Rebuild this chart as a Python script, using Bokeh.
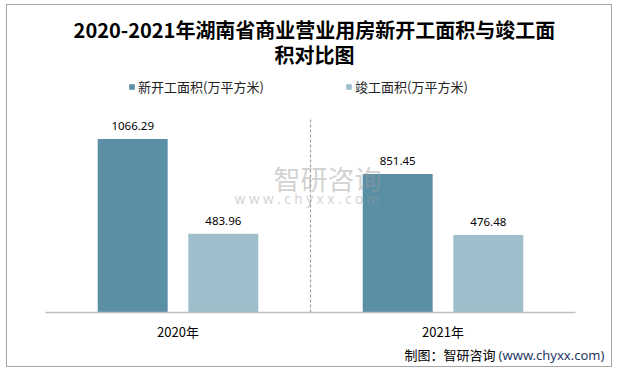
from bokeh.plotting import figure
from bokeh.models import (ColumnDataSource, FactorRange, Range1d, Legend, LegendItem,
                          LabelSet, Label)
from bokeh.transform import dodge
from bokeh.core.properties import value
from bokeh.embed import file_html
from bokeh.resources import INLINE

# ---- data ----
years = ["2020年", "2021年"]
new_start = [1066.29, 851.45]
completed = [483.96, 476.48]
series_names = ["新开工面积(万平方米)", "竣工面积(万平方米)"]
title_line1 = "2020-2021年湖南省商业营业用房新开工面积与竣工面"
title_line2 = "积对比图"
source_note = "制图：智研咨询"
source_url = "(www.chyxx.com)"

CJK = "Noto Sans CJK SC"
DARK = "#5b8fa6"
LIGHT = "#9fbecb"

src = ColumnDataSource(dict(
    year=years, new=new_start, done=completed,
    new_lbl=[f"{v:.2f}" for v in new_start],
    done_lbl=[f"{v:.2f}" for v in completed],
))

p = figure(width=606, height=363, x_range=FactorRange(*years, range_padding=0.1434),
           y_range=Range1d(-345, 1887), output_backend="svg", toolbar_location=None,
           min_border_left=0, min_border_right=0, min_border_top=0, min_border_bottom=0)
p.styles = {"border": "1px solid #a6a6a6", "margin-left": "6px", "margin-top": "4px"}
p.outline_line_color = None
p.background_fill_color = "white"
p.border_fill_color = "white"
p.grid.visible = False
p.yaxis.visible = False

# title (two centred lines)
for txt, ty in ((title_line1, 1739), (title_line2, 1584)):
    p.add_layout(Label(x=1.015, y=ty, text=txt, text_align="center", text_baseline="middle",
                       text_font=CJK, text_font_size="20px", text_font_style="bold",
                       text_color="#000000"))

# x axis (fixed at y=0 inside the frame)
ax = p.xaxis[0]
ax.fixed_location = 0
ax.bounds = (0, len(years))
ax.axis_line_color = "#bfbfbf"
ax.axis_line_width = 1.5
ax.major_tick_line_color = None
ax.minor_tick_line_color = None
ax.major_label_text_font = CJK
ax.major_label_text_font_size = "13px"
ax.major_label_text_color = "#000000"
ax.major_label_standoff = 4

# separator between categories
p.segment(x0=[1.0], y0=[0], x1=[1.0], y1=[1200], line_color="#a0a0a0",
          line_dash="3 2", line_width=1.2)

r1 = p.vbar(x=dodge("year", -0.171, range=p.x_range), top="new", width=0.264,
            source=src, fill_color=DARK, line_color=None)
r2 = p.vbar(x=dodge("year", 0.171, range=p.x_range), top="done", width=0.264,
            source=src, fill_color=LIGHT, line_color=None)

for col, lbl, off in (("new", "new_lbl", -0.171), ("done", "done_lbl", 0.171)):
    ls = LabelSet(x=dodge("year", off, range=p.x_range), y=col, text=lbl, source=src,
                  text_align="center", text_baseline="middle", y_offset=13,
                  text_font=value("Noto Sans"), text_font_size="11.5px", text_color="#000000")
    p.add_layout(ls)

# watermark
p.add_layout(Label(x=1.064, y=826, text="智研咨询", text_align="center", text_baseline="middle",
                   text_font=CJK, text_font_size="27px", text_color="#9a9a9a",
                   text_alpha=0.45))
p.add_layout(Label(x=0.987, y=697, text="w w w . c h y x x . c o m", text_align="center",
                   text_baseline="middle", text_font="Noto Sans", text_font_size="13.5px",
                   text_color="#9a9a9a", text_alpha=0.45))

# legends
for r, name, vx, lw in ((r1, series_names[0], 121, 135), (r2, series_names[1], 338, 110)):
    lg = Legend(items=[LegendItem(label=name, renderers=[r])], location=(vx, 271),
                orientation="horizontal", padding=0, margin=0, spacing=0,
                border_line_color=None, background_fill_alpha=0,
                glyph_width=7, glyph_height=7, label_standoff=3, label_height=22,
                label_width=lw,
                label_text_font=CJK, label_text_font_size="13px", label_text_color="#222222")
    p.add_layout(lg)

# source note
p.add_layout(Label(x=1.698, y=-259, text=source_note, text_align="right", text_baseline="middle",
                   text_font=CJK, text_font_size="13px", text_color="#000000"))
p.add_layout(Label(x=2.109, y=-259, text=source_url, text_align="right", text_baseline="middle",
                   text_font="Noto Sans", text_font_size="13px", text_color="#1f3864"))

open("out.html", "w").write(file_html(p, INLINE))
